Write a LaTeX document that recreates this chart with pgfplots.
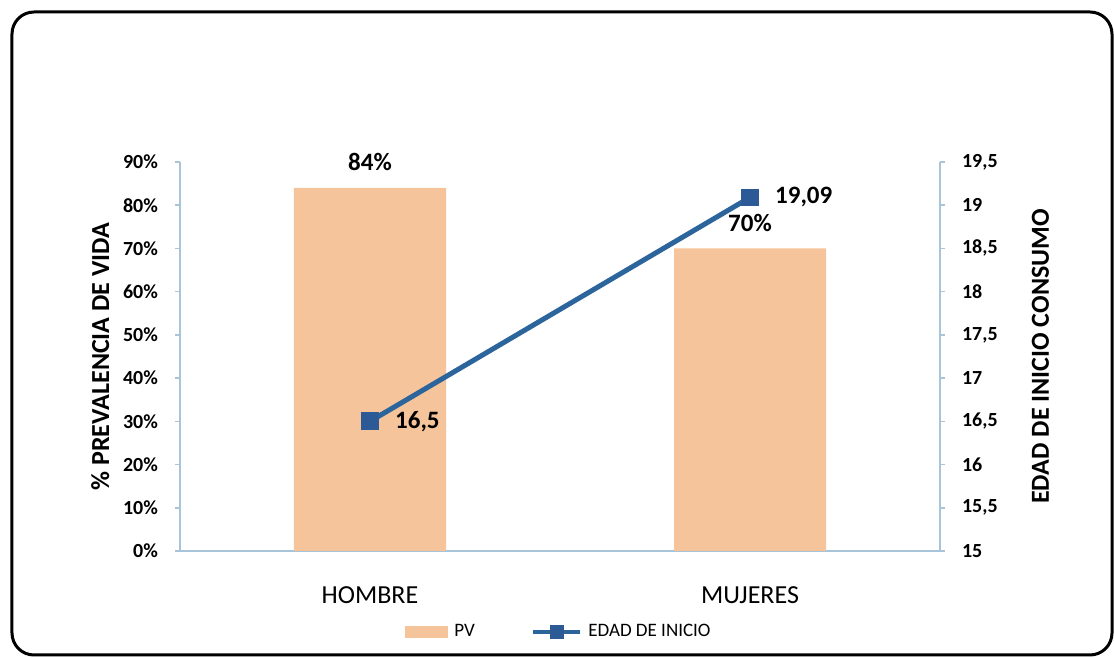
\documentclass[border=0pt]{standalone}
\usepackage{fontspec}
\setmainfont{Carlito}
\usepackage{pgfplots}
\pgfplotsset{compat=1.18}

\definecolor{barc}{HTML}{F6C49A}
\definecolor{linec}{HTML}{2C649C}
\definecolor{markc}{HTML}{2B5A96}
\definecolor{axisc}{HTML}{A8C4D8}

\begin{document}
\begin{tikzpicture}
\useasboundingbox (-90pt,-53.5pt) rectangle (467pt,275.5pt);
\fill[white] (-90pt,-53.5pt) rectangle (467pt,275.5pt);
\draw[line width=1.5pt, rounded corners=11pt] (-84pt,269.5pt) rectangle (466pt,-52pt);

% bars: prevalencia de vida
\begin{axis}[
  scale only axis, width=380pt, height=194.5pt,
  xmin=-0.5, xmax=1.5, ymin=0, ymax=90,
  axis y line*=left, axis x line*=bottom,
  axis line style={draw=axisc, line width=0.8pt},
  tick align=outside, major tick length=2.5pt,
  tick style={draw=axisc, line width=0.8pt},
  xtick={0,1}, xticklabels={HOMBRE,MUJERES},
  x tick style={draw=none},
  xticklabel style={font=\fontsize{13}{15}\selectfont, yshift=-12pt},
  ytick={0,10,...,90},
  yticklabel={\pgfmathprintnumber{\tick}\%},
  yticklabel style={font=\bfseries\fontsize{10}{12}\selectfont, xshift=-5pt},
  /pgf/number format/assume math mode=true,
  ylabel={\% PREVALENCIA DE VIDA},
  ylabel style={font=\bfseries\fontsize{13}{15}\selectfont, at={(axis description cs:-0.105,0.5)}, anchor=center},
  ybar, bar width=0.4,
  nodes near coords={\pgfmathprintnumber{\pgfplotspointmeta}\%},
  every node near coord/.append style={text=black, font=\bfseries\fontsize{12.5}{14}\selectfont, anchor=south, yshift=5pt},
  legend style={at={(axis description cs:0.5,-0.208)}, anchor=center, draw=none, fill=none,
    legend columns=2, font=\fontsize{9.5}{11}\selectfont,
    /tikz/every even column/.append style={column sep=26pt},
    /tikz/every odd column/.append style={column sep=1pt}},
]
\addplot[fill=barc, draw=none,
  legend image code/.code={\fill[barc] (0pt,-3pt) rectangle (21.5pt,3pt);}]
  coordinates {(0,84) (1,70)};
\addlegendentry{PV}
\addlegendimage{legend image code/.code={
  \draw[linec, line width=2.2pt] (0pt,0pt) -- (23.5pt,0pt);
  \fill[markc] (8.5pt,-3.2pt) rectangle (15pt,3.2pt);}}
\addlegendentry{EDAD DE INICIO}
\draw[axisc, line width=0.8pt] (axis cs:0.5,0) -- ++(0,-5pt);
\end{axis}

% line: edad de inicio
\begin{axis}[
  scale only axis, width=380pt, height=194.5pt,
  xmin=-0.5, xmax=1.5, ymin=15, ymax=19.5,
  axis y line*=right, axis x line=none,
  axis line style={draw=axisc, line width=0.8pt},
  tick align=outside, major tick length=2.5pt,
  tick style={draw=axisc, line width=0.8pt},
  ytick={15,15.5,...,19.5},
  /pgf/number format/.cd, use comma, fixed, assume math mode=true, /pgfplots/.cd,
  yticklabel style={font=\bfseries\fontsize{10}{12}\selectfont, xshift=5pt},
  ylabel={EDAD DE INICIO CONSUMO},
  ylabel style={font=\bfseries\fontsize{13}{15}\selectfont, at={(axis description cs:1.132,0.5)}, anchor=center, rotate=0},
  nodes near coords={\pgfmathprintnumber[use comma, fixed, precision=2]{\pgfplotspointmeta}},
  every node near coord/.append style={text=black, font=\bfseries\fontsize{12.5}{14}\selectfont, anchor=west, xshift=9pt},
]
\addplot[linec, line width=2.5pt, mark=square*, mark size=4.2pt, mark options={fill=markc, draw=markc, line width=0.5pt}]
  coordinates {(0,16.5) (1,19.09)};
\end{axis}
\end{tikzpicture}
\end{document}
